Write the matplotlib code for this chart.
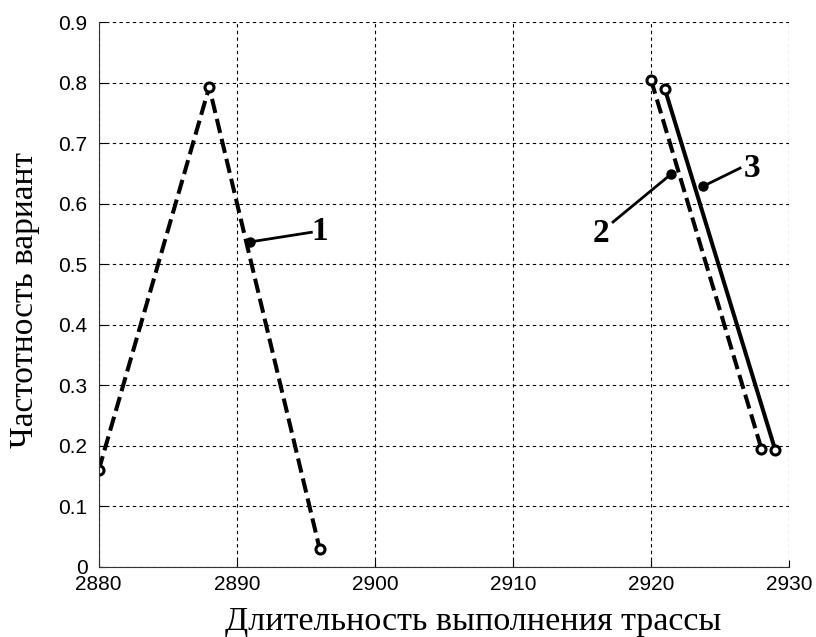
import matplotlib.pyplot as plt

# curve 1 (dashed)
x1 = [2880, 2888, 2896]
y1 = [0.16, 0.793, 0.03]
# curve 2 (dashed)
x2 = [2920, 2928]
y2 = [0.805, 0.195]
# curve 3 (solid)
x3 = [2921, 2929]
y3 = [0.79, 0.193]

xticks = [2880, 2890, 2900, 2910, 2920, 2930]
yticks = [0, 0.1, 0.2, 0.3, 0.4, 0.5, 0.6, 0.7, 0.8, 0.9]
ytick_labels = ["0", "0.1", "0.2", "0.3", "0.4", "0.5", "0.6", "0.7", "0.8", "0.9"]

# callouts: (label, point on curve, end of leader, text centre)
callouts = [
    ("1", (2890.94, 0.537), (2895.4, 0.553), (2896.0, 0.554)),
    ("2", (2921.45, 0.649), (2917.25, 0.570), (2916.35, 0.551)),
    ("3", (2923.77, 0.629), (2926.45, 0.659), (2927.3, 0.659)),
]


def main():
    fig = plt.figure(figsize=(8.16, 6.37), dpi=100)
    ax = fig.add_axes([0.121, 0.110, 0.846, 0.855])

    style = dict(color='black', linewidth=2.9, marker='o', markersize=6.5,
                 markerfacecolor='white', markeredgewidth=2.2, markeredgecolor='black')
    ax.plot(x1, y1, linestyle=(0, (3.6, 1.5)), **style)
    ax.plot(x2, y2, linestyle=(0, (3.6, 1.5)), **style)
    ax.plot(x3, y3, linestyle='-', **style)

    for label, pt, end, txt in callouts:
        ax.plot([pt[0], end[0]], [pt[1], end[1]], color='black', linewidth=2)
        ax.plot(pt[0], pt[1], 'o', color='black', markersize=6.5)
        ax.text(txt[0], txt[1], label, fontsize=24, fontweight='bold',
                family='Liberation Serif', ha='center', va='center')

    ax.set_xlim(2880, 2930)
    ax.set_ylim(0, 0.9)
    ax.set_xticks(xticks)
    ax.set_xticklabels([str(t) for t in xticks], family='Liberation Sans',
                       fontsize=15, color='#222222')
    ax.set_yticks(yticks)
    ax.set_yticklabels(ytick_labels, family='Liberation Sans',
                       fontsize=15, color='#222222')
    ax.tick_params(direction='in', length=5, width=0.8, colors='black')
    ax.tick_params(axis='x', pad=6)
    ax.tick_params(axis='y', pad=8)
    ax.grid(True, color='black', linestyle=(0, (3, 3)), linewidth=0.8)
    ax.spines['top'].set_visible(False)
    ax.spines['right'].set_visible(False)
    ax.spines['left'].set_color('#333333')
    ax.spines['bottom'].set_color('#333333')

    ax.set_xlabel("Длительность выполнения трассы", family='Liberation Serif',
                  fontsize=24.5)
    ax.xaxis.set_label_coords(0.542, -0.073)
    ax.set_ylabel("Частотность вариант", family='Liberation Serif', fontsize=24)
    ax.yaxis.set_label_coords(-0.085, 0.49)

    fig.savefig("out.png", dpi=100)
    plt.close(fig)


if __name__ == "__main__":
    main()
